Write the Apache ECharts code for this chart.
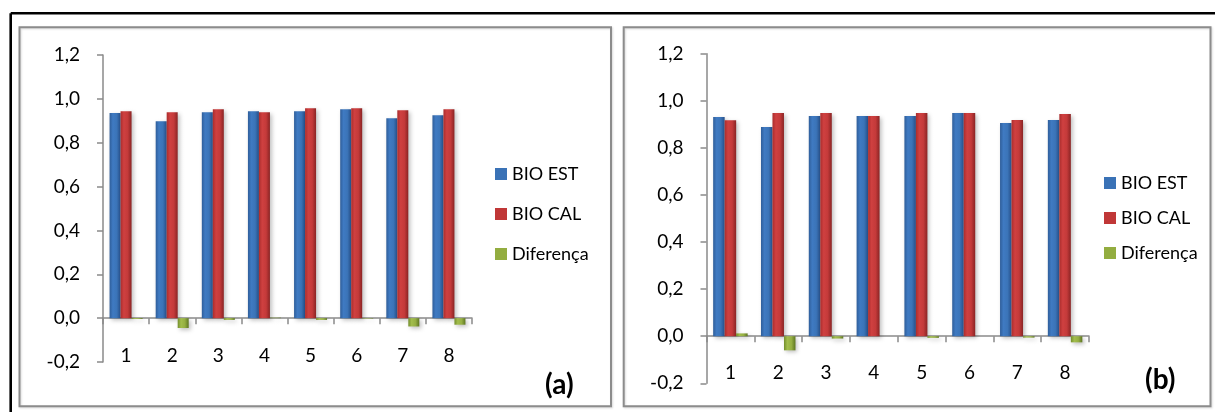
<!DOCTYPE html>
<html>
<head>
<meta charset="utf-8">
<script src="https://cdn.jsdelivr.net/npm/echarts@6/dist/echarts.min.js"></script>
<style>
html,body{margin:0;padding:0;background:#fff;}
#c{width:1215px;height:412px;}
</style>
</head>
<body>
<div id="c"></div>
<script>
// ---- data ----
var categories = ['1','2','3','4','5','6','7','8'];
var seriesNames = ['BIO EST','BIO CAL','Diferença'];
var yTickLabels = ['-0,2','0,0','0,2','0,4','0,6','0,8','1,0','1,2'];
var yMin = -0.2, yMax = 1.2, yInterval = 0.2;

var estA = [0.935, 0.898, 0.939, 0.944, 0.944, 0.953, 0.912, 0.925];
var calA = [0.944, 0.939, 0.953, 0.939, 0.957, 0.957, 0.948, 0.953];
var difA = [-0.004, -0.045, -0.008, 0.002, -0.008, -0.002, -0.038, -0.030];

var estB = [0.931, 0.889, 0.935, 0.935, 0.935, 0.948, 0.906, 0.918];
var calB = [0.917, 0.948, 0.948, 0.935, 0.948, 0.948, 0.918, 0.944];
var difB = [0.012, -0.060, -0.010, 0.000, -0.007, 0.000, -0.006, -0.026];

var panelLabels = ['(a)', '(b)'];

// ---- styles ----
var FONT = 'Lato';
function grad(c0, c1, c2, c3) {
  return new echarts.graphic.LinearGradient(0, 0, 1, 0, [
    {offset: 0, color: c0}, {offset: 0.3, color: c1},
    {offset: 0.65, color: c2}, {offset: 1, color: c3}
  ]);
}
var colors = [
  grad('#2f5e9a', '#3f7ac2', '#3b74b8', '#27508a'),
  grad('#ab2d2d', '#cf4040', '#c43a3a', '#8a2424'),
  grad('#738e2c', '#a2bd4c', '#95af42', '#5e7622')
];
var legendColors = ['#3a72b6', '#c03737', '#93ad40'];
var axisColor = '#8a8a8a';

function yLabel(v) {
  var i = Math.round((v - yMin) / yInterval);
  return yTickLabels[i] !== undefined ? yTickLabels[i] : '';
}

function xAxisCfg(gi, margin) {
  return {
    type: 'category', gridIndex: gi, data: categories,
    axisLine: {onZero: true, lineStyle: {color: axisColor, width: 1.5}},
    axisTick: {show: true, alignWithLabel: false, length: 6, lineStyle: {color: axisColor, width: 1.5}},
    axisLabel: {color: '#000', fontFamily: FONT, fontSize: 19, margin: margin},
    splitLine: {show: false}
  };
}
function yAxisCfg(gi) {
  return {
    type: 'value', gridIndex: gi, min: yMin, max: yMax, interval: yInterval,
    axisLine: {show: true, lineStyle: {color: axisColor, width: 1.5}},
    axisTick: {show: true, length: 6, lineStyle: {color: axisColor, width: 1.5}},
    axisLabel: {color: '#000', fontFamily: FONT, fontSize: 19, margin: 23, formatter: yLabel},
    splitLine: {show: false}
  };
}
function barSeries(name, data, idx, gi, bw) {
  return {
    name: name, type: 'bar', xAxisIndex: gi, yAxisIndex: gi, data: data,
    barWidth: bw, barGap: '0%',
    itemStyle: {
      color: colors[idx],
      shadowColor: 'rgba(0,0,0,0.25)', shadowBlur: 4, shadowOffsetX: 2, shadowOffsetY: 2
    },
    emphasis: {disabled: true},
    animation: false
  };
}
function legendCfg(left, top, gap) {
  return {
    orient: 'vertical', left: left, top: top, itemGap: gap,
    itemWidth: 12, itemHeight: 12, icon: 'rect',
    textStyle: {color: '#000', fontFamily: FONT, fontSize: 18},
    data: seriesNames.map(function (n, i) { return {name: n, itemStyle: {color: legendColors[i]}}; })
  };
}

var chart = echarts.init(document.getElementById('c'), null, {renderer: 'canvas'});
chart.setOption({
  backgroundColor: '#ffffff',
  animation: false,
  grid: [
    {left: 103, top: 55, width: 369, height: 307},
    {left: 706.5, top: 53.7, width: 382.5, height: 329.6}
  ],
  xAxis: [xAxisCfg(0, -16), xAxisCfg(1, -20)],
  yAxis: [yAxisCfg(0), yAxisCfg(1)],
  legend: [legendCfg(490, 160, 22), legendCfg(1099, 169, 17)],
  series: [
    barSeries(seriesNames[0], estA, 0, 0, 11),
    barSeries(seriesNames[1], calA, 1, 0, 11),
    barSeries(seriesNames[2], difA, 2, 0, 11),
    barSeries(seriesNames[0], estB, 0, 1, 11.5),
    barSeries(seriesNames[1], calB, 1, 1, 11.5),
    barSeries(seriesNames[2], difB, 2, 1, 11.5)
  ],
  graphic: [
    {type: 'line', shape: {x1: 10.7, y1: 13.3, x2: 1215, y2: 13.3}, style: {stroke: '#000', lineWidth: 2.6}, z: 10},
    {type: 'line', shape: {x1: 10.7, y1: 13.3, x2: 10.7, y2: 412}, style: {stroke: '#000', lineWidth: 2.6}, z: 10},
    {type: 'rect', shape: {x: 19.5, y: 27.3, width: 591.5, height: 379}, style: {fill: 'none', stroke: '#8c8c8c', lineWidth: 2, shadowColor: 'rgba(0,0,0,0.15)', shadowBlur: 2, shadowOffsetX: 1, shadowOffsetY: 1}, z: -1},
    {type: 'rect', shape: {x: 623.7, y: 27.3, width: 586.8, height: 379}, style: {fill: 'none', stroke: '#8c8c8c', lineWidth: 2, shadowColor: 'rgba(0,0,0,0.15)', shadowBlur: 2, shadowOffsetX: 1, shadowOffsetY: 1}, z: -1},
    {type: 'text', left: 545, top: 388 - 17, style: {text: panelLabels[0], font: 'bold 28px Lato', fill: '#000'}},
    {type: 'text', left: 1145, top: 383 - 17, style: {text: panelLabels[1], font: 'bold 28px Lato', fill: '#000'}}
  ]
});
</script>
</body>
</html>
